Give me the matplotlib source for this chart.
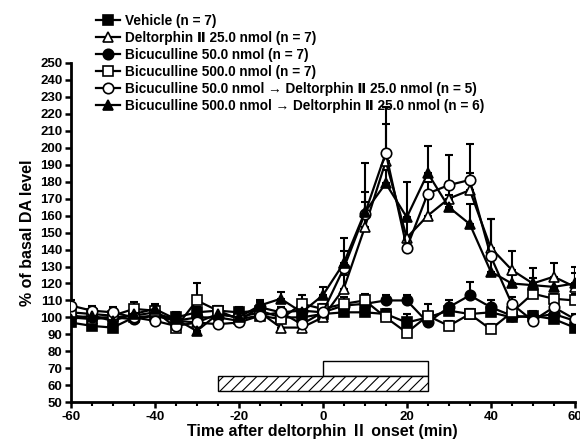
import matplotlib
matplotlib.use("Agg")
import matplotlib.pyplot as plt
from matplotlib.patches import Rectangle
from matplotlib.lines import Line2D

plt.rcParams['font.family'] = ['Liberation Sans', 'DejaVu Sans']
plt.rcParams['font.weight'] = 'bold'
plt.rcParams['hatch.linewidth'] = 0.8
plt.rcParams['axes.unicode_minus'] = False

time = list(range(-60, 61, 5))

vehicle = [97, 95, 94, 100, 101, 100, 103, 104, 103, 104, 100, 100, 102, 103, 103, 102, 97, 100, 104, 102, 103, 100, 101, 99, 94]
vehicle_err = [3, 3, 3, 3, 3, 3, 3, 3, 3, 3, 3, 3, 3, 3, 3, 3, 5, 3, 3, 3, 4, 3, 3, 3, 3]

delt = [100, 99, 100, 101, 103, 98, 97, 102, 100, 103, 94, 94, 100, 117, 153, 192, 147, 160, 170, 175, 141, 128, 120, 124, 118]
delt_err = [3, 3, 3, 3, 3, 3, 3, 3, 3, 3, 3, 3, 3, 8, 15, 22, 10, 10, 10, 10, 17, 11, 9, 8, 8]

bic50 = [101, 100, 100, 99, 101, 98, 100, 100, 98, 106, 103, 104, 103, 107, 108, 110, 110, 97, 106, 113, 106, 101, 100, 102, 98]
bic50_err = [3, 3, 3, 3, 3, 3, 3, 3, 3, 3, 3, 3, 3, 3, 3, 3, 3, 3, 4, 8, 4, 3, 3, 3, 3]

bic500 = [103, 102, 101, 105, 104, 94, 110, 104, 99, 101, 99, 108, 105, 108, 110, 100, 91, 101, 95, 102, 93, 103, 114, 111, 110]
bic500_err = [3, 3, 3, 4, 3, 3, 10, 3, 3, 3, 3, 5, 3, 4, 4, 3, 3, 7, 3, 3, 3, 3, 4, 3, 4]

bic50_delt = [107, 104, 103, 100, 98, 95, 97, 96, 97, 101, 103, 96, 103, 129, 161, 197, 141, 173, 178, 181, 136, 108, 98, 106, 99]
bic50_delt_err = [3, 3, 3, 3, 3, 3, 3, 3, 3, 3, 3, 3, 3, 10, 30, 27, 7, 7, 18, 21, 22, 4, 3, 3, 3]

bic500_delt = [99, 101, 98, 102, 105, 99, 92, 102, 100, 107, 111, 103, 113, 132, 162, 179, 159, 185, 165, 155, 127, 120, 119, 118, 120]
bic500_delt_err = [3, 3, 3, 3, 3, 3, 3, 3, 3, 3, 4, 3, 5, 15, 12, 8, 21, 16, 7, 12, 8, 5, 4, 5, 10]

labels = [
    "Vehicle (n = 7)",
    "Deltorphin \u2161 25.0 nmol (n = 7)",
    "Bicuculline 50.0 nmol (n = 7)",
    "Bicuculline 500.0 nmol (n = 7)",
    "Bicuculline 50.0 nmol \u2192 Deltorphin \u2161 25.0 nmol (n = 5)",
    "Bicuculline 500.0 nmol \u2192 Deltorphin \u2161 25.0 nmol (n = 6)",
]

series = [
    (vehicle, vehicle_err, 's', 'black'),
    (delt, delt_err, '^', 'white'),
    (bic50, bic50_err, 'o', 'black'),
    (bic500, bic500_err, 's', 'white'),
    (bic50_delt, bic50_delt_err, 'o', 'white'),
    (bic500_delt, bic500_delt_err, '^', 'black'),
]

fig = plt.figure(figsize=(5.8, 4.43), dpi=100)
ax = fig.add_axes([0.122, 0.092, 0.869, 0.766])

handles = []
for (vals, err, mk, fc), lab in zip(series, labels):
    ax.errorbar(time, vals, yerr=[[0] * len(err), err], fmt='none', ecolor='black',
                elinewidth=1.5, capsize=3, capthick=1.5, zorder=2)
    ax.plot(time, vals, color='black', lw=1.6, marker=mk, markersize=7.5,
            markerfacecolor=fc, markeredgecolor='black', markeredgewidth=1.2, zorder=3)
    handles.append(Line2D([], [], color='black', lw=1.6, marker=mk, markersize=7.5,
                          markerfacecolor=fc, markeredgecolor='black', markeredgewidth=1.2, label=lab))

# treatment bars
ax.add_patch(Rectangle((0, 65.5), 25, 9, facecolor='white', edgecolor='black', lw=1.0, zorder=1))
ax.add_patch(Rectangle((-25, 56.5), 50, 9, facecolor='white', edgecolor='black', lw=1.0,
                       hatch='///', zorder=1))

ax.set_xlim(-60, 60)
ax.set_ylim(50, 250)
ax.set_xticks(range(-60, 61, 20))
ax.set_xticks(range(-60, 61, 5), minor=True)
ax.set_yticks(range(50, 251, 10))
ax.spines['top'].set_visible(False)
ax.spines['right'].set_visible(False)
for s in ('left', 'bottom'):
    ax.spines[s].set_linewidth(2)
ax.tick_params(axis='both', which='major', direction='out', length=4, width=1.8, labelsize=9.5, pad=2)
ax.tick_params(axis='x', which='minor', direction='out', length=3, width=1.5)
for t in ax.get_xticklabels() + ax.get_yticklabels():
    t.set_fontweight('bold')

ax.set_xlabel("Time after deltorphin \u2161 onset (min)", fontsize=11.5, fontweight='bold', labelpad=1,
              family=['Liberation Sans', 'Noto Sans CJK SC'])
ax.set_ylabel("% of basal DA level", fontsize=11.5, fontweight='bold', labelpad=4)

leg = fig.legend(handles=handles, loc='upper left', bbox_to_anchor=(0.165, 0.968), frameon=False,
                 fontsize=9.8, handlelength=1.8, handletextpad=0.35, labelspacing=0.22,
                 borderpad=0.0, borderaxespad=0.0)
for t in leg.get_texts():
    t.set_fontweight('bold')

fig.savefig("out.png", dpi=100)
